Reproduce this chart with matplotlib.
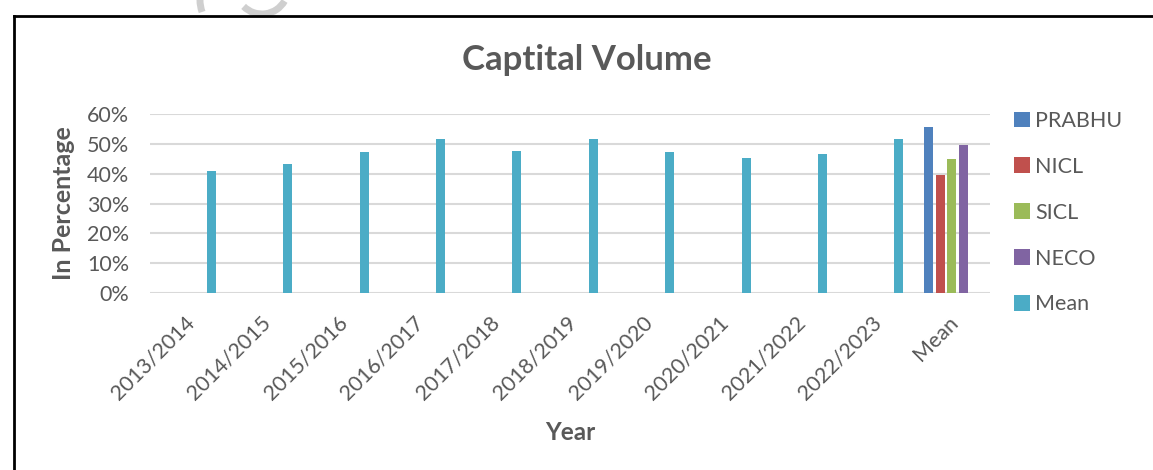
import numpy as np
import matplotlib.pyplot as plt
import matplotlib.transforms as mtransforms
from matplotlib.patches import Arc
from matplotlib.ticker import PercentFormatter

categories = ["2013/2014", "2014/2015", "2015/2016", "2016/2017", "2017/2018",
              "2018/2019", "2019/2020", "2020/2021", "2021/2022", "2022/2023", "Mean"]
series_names = ["PRABHU", "NICL", "SICL", "NECO", "Mean"]

nan = np.nan
prabhu = [nan] * 10 + [0.556]
nicl = [nan] * 10 + [0.395]
sicl = [nan] * 10 + [0.449]
neco = [nan] * 10 + [0.496]
mean = [0.410, 0.432, 0.473, 0.514, 0.476, 0.516, 0.471, 0.452, 0.465, 0.514, nan]

colors = ["#4F81BD", "#C0504D", "#9BBB59", "#8064A2", "#4BACC6"]
text_color = "#595959"

plt.rcParams["font.family"] = ["Lato", "DejaVu Sans"]

fig = plt.figure(figsize=(11.53, 4.70), dpi=100)

# background layer in pixel units: frame and watermark fragment
bg = fig.add_axes([0, 0, 1, 1], zorder=-1)
bg.set_xlim(0, 1153)
bg.set_ylim(470, 0)
bg.axis("off")
bg.plot([13.5, 1153], [15.5, 15.5], color="black", lw=2)
bg.plot([13.5, 13.5], [15.5, 470], color="black", lw=2)
bg.add_patch(Arc((262, -12), 52, 52, theta1=30, theta2=135, color="#CFCFCF", lw=5))
bg.add_patch(Arc((235, 0), 70, 70, theta1=160, theta2=200, color="#CFCFCF", lw=5))

ax = fig.add_axes([0.1301, 0.376, 0.7285, 0.382])

x = np.arange(len(categories))
slot = 0.153
width = 0.118
for j, (name, vals) in enumerate(zip(series_names, [prabhu, nicl, sicl, neco, mean])):
    ax.bar(x + (j - 2) * slot, vals, width, color=colors[j], label=name, zorder=3)

ax.set_xlim(-0.5, len(categories) - 0.5)
ax.set_ylim(0, 0.6)
ax.set_yticks(np.arange(0, 0.61, 0.1))
ax.yaxis.set_major_formatter(PercentFormatter(1.0, decimals=0))
ax.grid(axis="y", color="#D9D9D9", linewidth=1.5, zorder=0)
for s in ax.spines.values():
    s.set_visible(False)
ax.tick_params(axis="both", length=0, colors=text_color, labelsize=15.5)
ax.tick_params(axis="y", pad=15)
ax.set_xticks(x)
ax.set_xticklabels(categories, rotation=45, ha="right", va="top", rotation_mode="anchor")
ax.tick_params(axis="x", pad=14)
shift = mtransforms.ScaledTranslation(-4 / 100, 0, fig.dpi_scale_trans)
for lbl in ax.get_xticklabels():
    lbl.set_transform(lbl.get_transform() + shift)

ax.set_ylabel("In Percentage", fontsize=18, fontweight="bold", color=text_color)
ax.yaxis.set_label_coords(-0.089, 0.5)
ax.set_xlabel("Year", fontsize=17.5, fontweight="bold", color=text_color)
ax.xaxis.set_label_coords(0.5, -0.71)
fig.text(0.509, 0.872, "Captital Volume", fontsize=25, fontweight="bold",
         color=text_color, ha="center", va="center")

leg = ax.legend(loc="upper left", bbox_to_anchor=(1.005, 1.123), frameon=False,
                fontsize=15.5, labelcolor=text_color, handlelength=0.75,
                handleheight=0.75, handletextpad=0.25, labelspacing=1.2)

fig.savefig("out.png", dpi=100, facecolor="white")
